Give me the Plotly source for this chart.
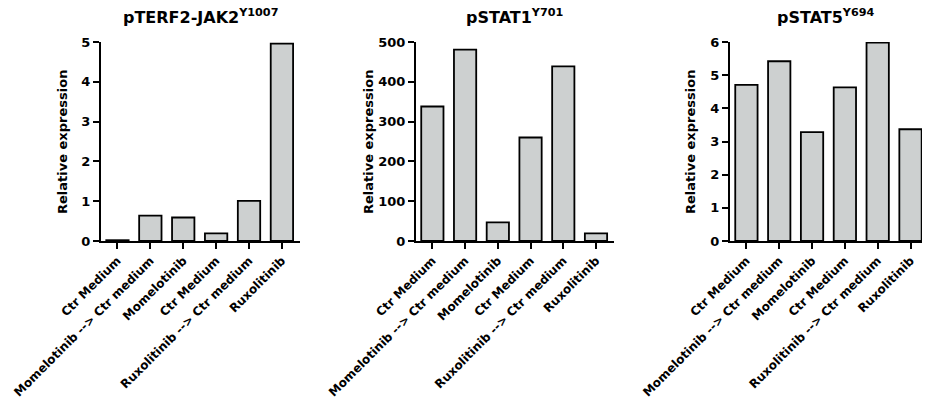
import plotly.graph_objects as go

categories = ["Ctr Medium", "Momelotinib --> Ctr medium", "Momelotinib",
              "Ctr Medium", "Ruxolitinib --> Ctr medium", "Ruxolitinib"]
jak2_values = [0.02, 0.64, 0.59, 0.19, 1.01, 4.96]
stat1_values = [338, 481, 47, 260, 439, 19]
stat5_values = [4.71, 5.42, 3.28, 4.63, 5.98, 3.37]
titles = ["pTERF2-JAK2<sup>Y1007</sup>", "pSTAT1<sup>Y701</sup>", "pSTAT5<sup>Y694</sup>"]
y_ranges = [[0, 5], [0, 500], [0, 6]]
y_dticks = [1, 100, 1]
x_ranges = [[-0.5, 5.55], [-0.5, 5.55], [-0.5, 5.35]]

W, H = 926, 408
FONT = "DejaVu Sans, sans-serif"
x_doms = [(101, 300), (416, 614), (730, 922)]
y_dom = (408 - 241, 408 - 42)

fig = go.Figure()
series = [jak2_values, stat1_values, stat5_values]
idx = list(range(len(categories)))
annotations = []
for i, vals in enumerate(series):
    n = "" if i == 0 else str(i + 1)
    fig.add_trace(go.Bar(
        x=idx, y=vals, xaxis="x" + n, yaxis="y" + n, width=0.68,
        marker=dict(color="#cdd0d0", line=dict(color="black", width=1.8)),
        showlegend=False, hoverinfo="y"))
    xd = [x_doms[i][0] / W, x_doms[i][1] / W]
    fig.update_layout(**{
        "xaxis" + n: dict(domain=xd, anchor="y" + n, range=x_ranges[i],
                          tickvals=idx, ticktext=categories, tickangle=-45,
                          showline=True, linecolor="black", linewidth=2,
                          ticks="outside", ticklen=6, tickwidth=2, tickcolor="black",
                          showgrid=False, zeroline=False, automargin=False,
                          tickfont=dict(family=FONT, size=12, color="black", weight="bold")),
        "yaxis" + n: dict(domain=[y_dom[0] / H, y_dom[1] / H], anchor="x" + n,
                          range=y_ranges[i], dtick=y_dticks[i],
                          showline=True, linecolor="black", linewidth=2,
                          ticks="outside", ticklen=6, tickwidth=2, tickcolor="black",
                          showgrid=False, zeroline=False, automargin=False,
                          tickfont=dict(family=FONT, size=13, color="black", weight="bold")),
    })
    cx = (x_doms[i][0] + x_doms[i][1]) / 2 / W
    annotations.append(dict(text="<b>" + titles[i] + "</b>", x=cx, y=1 - 17 / H,
                            xref="paper", yref="paper", showarrow=False,
                            xanchor="center", yanchor="middle",
                            font=dict(family=FONT, size=16, color="black")))
    ylab_x = [62, 368, 690][i] / W
    annotations.append(dict(text="<b>Relative expression</b>", x=ylab_x, y=(408 - 142) / H,
                            xref="paper", yref="paper", showarrow=False, textangle=-90,
                            xanchor="center", yanchor="middle",
                            font=dict(family=FONT, size=13, color="black")))

fig.update_layout(width=W, height=H, margin=dict(l=0, r=0, t=0, b=0),
                  plot_bgcolor="white", paper_bgcolor="white",
                  bargap=0.3, annotations=annotations,
                  font=dict(family=FONT, color="black"))
fig.write_html("out.html", config={"displayModeBar": False},
               post_script="document.body.style.margin='0';document.body.style.overflow='hidden';")
